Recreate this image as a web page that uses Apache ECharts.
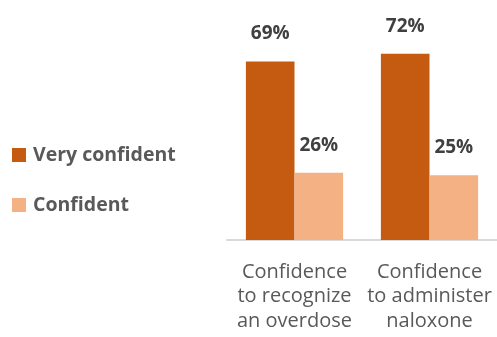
<!DOCTYPE html>
<html>
<head>
<meta charset="utf-8">
<script src="https://cdn.jsdelivr.net/npm/echarts@6/dist/echarts.min.js"></script>
<style>html,body{margin:0;padding:0;background:#fff;}#c{width:497px;height:337px;}</style>
</head>
<body>
<div id="c"></div>
<script>
var categories = ["Confidence\nto recognize\nan overdose", "Confidence\nto administer\nnaloxone"];
var seriesNames = ["Very confident", "Confident"];
var veryConfident = [69, 72];
var confident = [26, 25];

var chart = echarts.init(document.getElementById('c'));
var font = '"Open Sans", "Liberation Sans", sans-serif';
var labelStyle = {
  show: true, position: 'top', distance: 18,
  formatter: '{c}%', color: '#404040', fontFamily: font, fontWeight: 'bold', fontSize: 19
};
chart.setOption({
  animation: false,
  textStyle: {fontFamily: font},
  legend: {
    orient: 'vertical', left: 12, top: 145, padding: 0,
    itemWidth: 14, itemHeight: 14, itemGap: 30,
    icon: 'rect',
    textStyle: {color: '#595959', fontFamily: font, fontWeight: 'bold', fontSize: 19.5, lineHeight: 20, padding: [0, 0, 0, 2]},
    data: seriesNames
  },
  grid: {left: 227, right: -2, top: 33, bottom: 97, containLabel: false},
  xAxis: {
    type: 'category', data: categories,
    axisLine: {show: true, lineStyle: {color: '#D9D9D9', width: 2}},
    axisTick: {show: false},
    axisLabel: {interval: 0, color: '#595959', fontFamily: font, fontSize: 20, lineHeight: 24.5, margin: 20}
  },
  yAxis: {type: 'value', min: 0, max: 80, show: false, splitLine: {show: false}},
  series: [
    {name: seriesNames[0], type: 'bar', data: veryConfident, barGap: '0%', barCategoryGap: '28%',
     itemStyle: {color: '#C55A11'}, label: labelStyle},
    {name: seriesNames[1], type: 'bar', data: confident,
     itemStyle: {color: '#F4B183'}, label: labelStyle}
  ]
});
</script>
</body>
</html>
